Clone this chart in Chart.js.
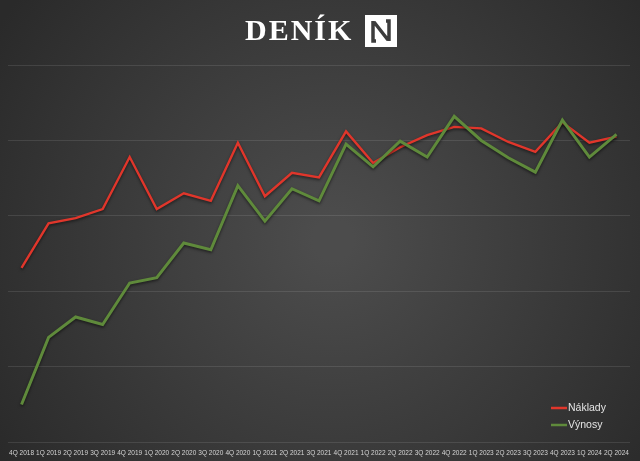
<!DOCTYPE html>
<html>
<head>
<meta charset="utf-8">
<script src="https://cdn.jsdelivr.net/npm/chart.js@4"></script>
<style>
html, body { margin: 0; padding: 0; background: #333; }
#wrap { width: 640px; height: 461px; }
</style>
</head>
<body>
<div id="wrap"><canvas id="myChart" width="640" height="461"></canvas></div>
<script>
// quarters on the x axis
const quarters = ['4Q 2018', '1Q 2019', '2Q 2019', '3Q 2019', '4Q 2019', '1Q 2020', '2Q 2020', '3Q 2020',
    '4Q 2020', '1Q 2021', '2Q 2021', '3Q 2021', '4Q 2021', '1Q 2022', '2Q 2022', '3Q 2022',
    '4Q 2022', '1Q 2023', '2Q 2023', '3Q 2023', '4Q 2023', '1Q 2024', '2Q 2024'];

// values (units = gridline steps, no axis labels shown)
const naklady = [2.31, 2.90, 2.97, 3.09, 3.78, 3.09, 3.30, 3.20, 3.97, 3.26, 3.57, 3.51,
    4.12, 3.70, 3.91, 4.07, 4.18, 4.16, 3.98, 3.85, 4.24, 3.97, 4.05];
const vynosy = [0.50, 1.39, 1.66, 1.56, 2.11, 2.18, 2.64, 2.55, 3.40, 2.93, 3.36, 3.20,
    3.95, 3.65, 3.99, 3.78, 4.32, 4.00, 3.77, 3.58, 4.27, 3.78, 4.08];

const seriesNames = ['Náklady', 'Výnosy'];
const seriesColors = ['#e0362b', '#5f8a3b'];

// background, header and legend
const decor = {
    id: 'decor',
    beforeDraw(chart) {
        const c = chart.ctx;
        const w = chart.width, h = chart.height;
        c.save();
        const g = c.createRadialGradient(w * 0.52, h * 0.52, 20, w * 0.52, h * 0.52, w * 0.62);
        g.addColorStop(0, '#4c4c4c');
        g.addColorStop(1, '#2a2a2a');
        c.fillStyle = g;
        c.fillRect(0, 0, w, h);

        // header "DENÍK N"
        c.fillStyle = '#ffffff';
        c.font = 'bold 30px "Liberation Serif"';
        c.letterSpacing = '2px';
        c.textBaseline = 'alphabetic';
        c.textAlign = 'left';
        c.fillText('DENÍK', 245, 40);
        c.letterSpacing = '0px';
        // logo box
        c.fillRect(365, 15, 32, 32);
        c.strokeStyle = '#3c3c3c';
        c.lineWidth = 3.5;
        c.beginPath();
        c.moveTo(373, 21); c.lineTo(373, 41); c.lineTo(376, 41);
        c.moveTo(374, 22); c.lineTo(388, 40);
        c.moveTo(389, 41); c.lineTo(389, 21); c.lineTo(386, 21);
        c.stroke();
        c.restore();
    },
    afterDraw(chart) {
        const c = chart.ctx;
        c.save();
        c.font = '10.5px "Liberation Sans"';
        c.textBaseline = 'middle';
        c.textAlign = 'left';
        const ys = [408, 425];
        chart.data.datasets.forEach((ds) => {
            const y = ys[seriesNames.indexOf(ds.label)];
            c.strokeStyle = ds.borderColor;
            c.lineWidth = 2.5;
            c.beginPath();
            c.moveTo(551, y); c.lineTo(567, y);
            c.stroke();
            c.fillStyle = '#e4e4e4';
            c.fillText(ds.label, 568, y);
        });
        c.restore();
    },
    beforeDatasetDraw(chart) {
        const c = chart.ctx;
        c.save();
        c.shadowColor = 'rgba(0,0,0,0.55)';
        c.shadowBlur = 3;
        c.shadowOffsetY = 1.5;
    },
    afterDatasetDraw(chart) {
        chart.ctx.restore();
    }
};

var ctx = document.getElementById('myChart').getContext('2d');
var myChart = new Chart(ctx, {
    type: 'line',
    data: {
        labels: quarters,
        datasets: [{
            label: seriesNames[1],
            data: vynosy,
            borderColor: seriesColors[1],
            borderWidth: 3,
            pointRadius: 0,
            tension: 0,
            fill: false
        }, {
            label: seriesNames[0],
            data: naklady,
            borderColor: seriesColors[0],
            borderWidth: 2.4,
            pointRadius: 0,
            tension: 0,
            fill: false
        }]
    },
    options: {
        responsive: false,
        animation: false,
        layout: { padding: { left: 8, right: 10, top: 65, bottom: -3 } },
        plugins: {
            legend: { display: false },
            tooltip: { enabled: false }
        },
        scales: {
            x: {
                offset: true,
                grid: { display: false, drawTicks: false },
                border: { display: false },
                ticks: {
                    autoSkip: false,
                    maxRotation: 0,
                    padding: 7,
                    color: '#d4d4d4',
                    font: { family: 'Liberation Sans', size: 6.5 }
                }
            },
            y: {
                min: 0,
                max: 5,
                ticks: { display: false, stepSize: 1 },
                grid: { color: 'rgba(255,255,255,0.10)', drawTicks: false },
                border: { display: false }
            }
        }
    },
    plugins: [decor]
});
</script>
</body>
</html>
